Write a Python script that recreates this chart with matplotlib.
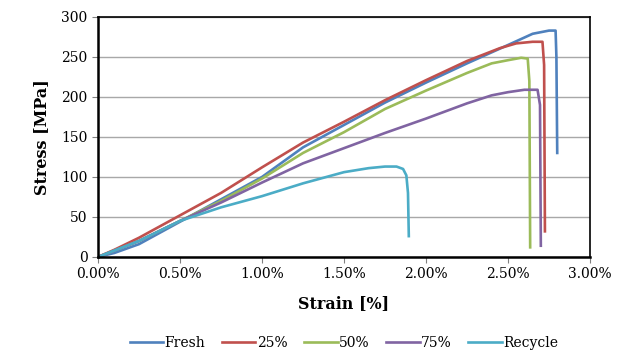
import numpy as np
import matplotlib.pyplot as plt
from matplotlib.ticker import FuncFormatter

# strain in %, stress in MPa
fresh_x = [0, 0.1, 0.25, 0.5, 0.75, 1.0, 1.25, 1.5, 1.75, 2.0, 2.25, 2.5, 2.65, 2.75, 2.79, 2.795, 2.80]
fresh_y = [0, 5, 16, 44, 72, 100, 137, 165, 193, 218, 242, 265, 279, 283, 283, 250, 130]

p25_x = [0, 0.1, 0.25, 0.5, 0.75, 1.0, 1.25, 1.5, 1.75, 2.0, 2.25, 2.45, 2.55, 2.65, 2.71, 2.72, 2.725]
p25_y = [0, 9, 24, 52, 80, 112, 143, 169, 196, 221, 245, 261, 267, 269, 269, 240, 32]

p50_x = [0, 0.25, 0.5, 0.75, 1.0, 1.25, 1.5, 1.75, 2.0, 2.25, 2.4, 2.5, 2.58, 2.62, 2.63, 2.635]
p50_y = [0, 20, 45, 70, 98, 130, 156, 185, 208, 230, 242, 246, 249, 248, 220, 12]

p75_x = [0, 0.25, 0.5, 0.75, 1.0, 1.25, 1.5, 1.75, 2.0, 2.25, 2.4, 2.5, 2.6, 2.68, 2.695, 2.70]
p75_y = [0, 20, 45, 68, 93, 117, 136, 155, 173, 192, 202, 206, 209, 209, 190, 14]

rec_x = [0, 0.25, 0.5, 0.75, 1.0, 1.25, 1.5, 1.65, 1.75, 1.82, 1.86, 1.88, 1.89, 1.895]
rec_y = [0, 20, 45, 62, 76, 92, 106, 111, 113, 113, 110, 102, 80, 26]

labels = ['Fresh', '25%', '50%', '75%', 'Recycle']
colors = ['#4F81BD', '#C0504D', '#9BBB59', '#8064A2', '#4BACC6']

plt.rcParams['font.family'] = 'DejaVu Serif'

fig = plt.figure(figsize=(6.22, 3.51), dpi=100)
ax = fig.add_axes([0.1576, 0.268, 0.791, 0.6836])

series = [(fresh_x, fresh_y), (p25_x, p25_y), (p50_x, p50_y), (p75_x, p75_y), (rec_x, rec_y)]
for (xs, ys), lab, c in zip(series, labels, colors):
    ax.plot(xs, ys, color=c, lw=1.9, label=lab, solid_joinstyle='round')

ax.set_xlim(0, 3.0)
ax.set_ylim(0, 300)
ax.set_xticks(np.arange(0, 3.01, 0.5))
ax.set_yticks(np.arange(0, 301, 50))
ax.xaxis.set_major_formatter(FuncFormatter(lambda v, p: f'{v:.2f}%'))
ax.yaxis.grid(True, color='#A8A8A8', lw=1.0)
ax.set_axisbelow(True)

for s in ['left', 'bottom']:
    ax.spines[s].set_linewidth(1.8)
for s in ['top', 'right']:
    ax.spines[s].set_linewidth(1.2)
ax.tick_params(axis='both', direction='out', length=4, width=0.8, color='#808080', labelsize=10)

ax.set_xlabel('Strain [%]', fontsize=11.5, fontweight='bold', labelpad=10)
ax.set_ylabel('Stress [MPa]', fontsize=11.5, fontweight='bold', labelpad=8)

ax.legend(loc='center', bbox_to_anchor=(0.5, -0.36), ncol=5, frameon=False,
          fontsize=10, handlelength=2.4, handletextpad=0.1, columnspacing=1.2)

fig.savefig('out.png', dpi=100)
